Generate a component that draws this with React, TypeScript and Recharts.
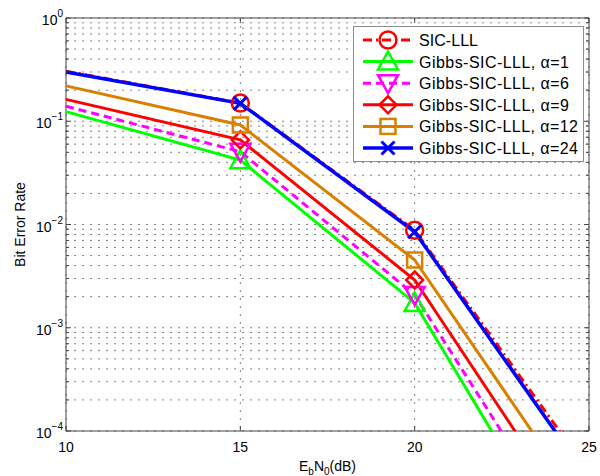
import React from 'react'
import { LineChart, Line, XAxis, YAxis, CartesianGrid, ReferenceArea, Legend, Label } from 'recharts'

// Eb/N0 points and BER curves
const snr = [10, 15, 20, 25]
const markedSnr = [15, 20]
const sicLll = [0.305, 0.15, 0.0088, 4.0e-5]
const gibbsA1 = [0.124, 0.042, 0.00174, 2.7e-6]
const gibbsA6 = [0.14, 0.0507, 0.00208, 4.6e-6]
const gibbsA9 = [0.163, 0.066, 0.0029, 8.3e-6]
const gibbsA12 = [0.22, 0.092, 0.00453, 1.55e-5]
const gibbsA24 = [0.3, 0.149, 0.0085, 3.4e-5]

const xTicks = [10, 15, 20, 25]
const decades = [-4, -3, -2, -1]

const yTicks = [
  ...decades.flatMap((d) => [1, 2, 3, 4, 5, 6, 7, 8, 9].map((m) => m * Math.pow(10, d))),
  1
]

const W = 600
const H = 476
const margin = { top: 18, right: 11, left: 0, bottom: 0 }
const PLOT_TOP = margin.top
const PLOT_RIGHT = W - margin.right
const FONT = '"Liberation Sans", Arial, Helvetica, sans-serif'

type Shape = 'circle' | 'up' | 'down' | 'diamond' | 'square' | 'x'

// textW = width of the legend label in the original figure
const series: { key: string; name: string; values: number[]; color: string; dash?: string; shape: Shape; width: number; textW: number }[] = [
  { key: 'sic', name: 'SIC-LLL', values: sicLll, color: '#ff0000', dash: '9 4 2 4', shape: 'circle', width: 3, textW: 59 },
  { key: 'a1', name: 'Gibbs-SIC-LLL, α=1', values: gibbsA1, color: '#00ff00', shape: 'up', width: 3, textW: 150 },
  { key: 'a6', name: 'Gibbs-SIC-LLL, α=6', values: gibbsA6, color: '#ff00ff', dash: '8 5', shape: 'down', width: 3, textW: 150 },
  { key: 'a9', name: 'Gibbs-SIC-LLL, α=9', values: gibbsA9, color: '#ff0000', shape: 'diamond', width: 3, textW: 150 },
  { key: 'a12', name: 'Gibbs-SIC-LLL, α=12', values: gibbsA12, color: '#d98000', shape: 'square', width: 3, textW: 159 },
  { key: 'a24', name: 'Gibbs-SIC-LLL, α=24', values: gibbsA24, color: '#0000ff', shape: 'x', width: 3.5, textW: 159 }
]

const data = snr.map((s, i) => {
  const row: Record<string, number> = { snr: s }
  series.forEach((sr) => { row[sr.key] = sr.values[i] })
  return row
})

function Marker({ shape, cx, cy, color }: { shape: Shape; cx: number; cy: number; color: string }) {
  const sw = 2.5
  switch (shape) {
    case 'circle':
      return <circle cx={cx} cy={cy} r={8.5} fill="none" stroke={color} strokeWidth={sw} />
    case 'up':
      return <polygon points={`${cx},${cy - 10} ${cx - 10},${cy + 8} ${cx + 10},${cy + 8}`} fill="none" stroke={color} strokeWidth={sw} />
    case 'down':
      return <polygon points={`${cx},${cy + 10} ${cx - 10},${cy - 8} ${cx + 10},${cy - 8}`} fill="none" stroke={color} strokeWidth={sw} />
    case 'diamond':
      return <polygon points={`${cx},${cy - 8.5} ${cx + 8.5},${cy} ${cx},${cy + 8.5} ${cx - 8.5},${cy}`} fill="none" stroke={color} strokeWidth={sw} />
    case 'square':
      return <rect x={cx - 7.5} y={cy - 7.5} width={15} height={15} fill="none" stroke={color} strokeWidth={sw} />
    default:
      return (
        <g stroke={color} strokeWidth={3}>
          <line x1={cx - 6.5} y1={cy - 6.5} x2={cx + 6.5} y2={cy + 6.5} />
          <line x1={cx - 6.5} y1={cy + 6.5} x2={cx + 6.5} y2={cy - 6.5} />
        </g>
      )
  }
}

const XTick = ({ x, y, payload }: any) => (
  <g>
    <line x1={x} y1={y} x2={x} y2={y - 5} stroke="#444" />
    <line x1={x} y1={PLOT_TOP} x2={x} y2={PLOT_TOP + 5} stroke="#444" />
    <text x={x} y={y + 21} textAnchor="middle" fontSize={14} fontFamily={FONT} fill="#000">
      {payload.value}
    </text>
  </g>
)

const YTick = ({ x, y, payload }: any) => {
  const lg = Math.log10(payload.value)
  const major = Math.abs(lg - Math.round(lg)) < 1e-6
  const len = major ? 5 : 3
  const exp = Math.round(lg)
  return (
    <g>
      <line x1={x} y1={y} x2={x + len} y2={y} stroke="#444" />
      <line x1={PLOT_RIGHT - len} y1={y} x2={PLOT_RIGHT} y2={y} stroke="#444" />
      {major && (
        <text x={x - 3} y={y + 7} textAnchor="end" fontSize={14} fontFamily={FONT} fill="#000">
          10<tspan dy={-8} fontSize={10}>{exp < 0 ? `\u2212${-exp}` : `${exp}`}</tspan>
        </text>
      )}
    </g>
  )
}

const ROW = 21.6
const LegendBox = () => (
  <svg width={231} height={136} style={{ display: 'block' }}>
    <rect x={0.5} y={0.5} width={230} height={135} fill="#fff" stroke="#8c8c8c" />
    {series.map((s, i) => {
      const cy = 14 + i * ROW
      return (
        <g key={s.key}>
          <line x1={10} y1={cy} x2={60} y2={cy} stroke={s.color} strokeWidth={s.width} strokeDasharray={s.dash} />
          <Marker shape={s.shape} cx={35} cy={cy} color={s.color} />
          <text x={66} y={cy + 6} fontSize={16} fontFamily={FONT} fill="#000" textLength={s.textW} lengthAdjust="spacing">
            {s.name}
          </text>
        </g>
      )
    })}
  </svg>
)

export default function App() {
  return (
    <div style={{ position: 'absolute', left: 0, top: 0, width: W, height: H, background: '#fff' }}>
      <LineChart width={W} height={H} data={data} margin={margin}>
        <CartesianGrid stroke="#808080" strokeDasharray="2 6" />
        <XAxis
          dataKey="snr"
          type="number"
          domain={[10, 25]}
          ticks={xTicks}
          height={45}
          axisLine={false}
          tickLine={false}
          tickSize={0}
          tickMargin={0}
          tick={<XTick />}
          interval={0}
        >
          <Label
            content={({ viewBox }: any) => (
              <text x={viewBox.x + viewBox.width / 2} y={viewBox.y + 40} textAnchor="middle" fontSize={14} fontFamily={FONT} fill="#000">
                E<tspan dy={4} fontSize={10}>b</tspan>
                <tspan dy={-4}>N</tspan>
                <tspan dy={4} fontSize={10}>0</tspan>
                <tspan dy={-4}>(dB)</tspan>
              </text>
            )}
          />
        </XAxis>
        <YAxis
          type="number"
          scale="log"
          domain={[1e-4, 1]}
          allowDataOverflow
          ticks={yTicks}
          width={66}
          axisLine={false}
          tickLine={false}
          tickSize={0}
          tickMargin={0}
          tick={<YTick />}
          interval={0}
        >
          <Label
            content={({ viewBox }: any) => {
              const cy = viewBox.y + viewBox.height / 2
              return (
                <text x={25} y={cy} transform={`rotate(-90, 25, ${cy})`} textAnchor="middle" fontSize={14} fontFamily={FONT} fill="#000">
                  Bit Error Rate
                </text>
              )
            }}
          />
        </YAxis>
        <ReferenceArea x1={10} x2={25} y1={1e-4} y2={1} fill="none" stroke="#444" strokeWidth={1} />
        {series.map((s) => (
          <Line
            key={s.key}
            dataKey={s.key}
            name={s.name}
            stroke={s.color}
            strokeWidth={s.width}
            strokeDasharray={s.dash}
            isAnimationActive={false}
            activeDot={false}
            dot={(p: any) =>
              markedSnr.includes(p.payload.snr) ? (
                <Marker key={`${s.key}-${p.index}`} shape={s.shape} cx={p.cx} cy={p.cy} color={s.color} />
              ) : (
                <g key={`${s.key}-${p.index}`} />
              )
            }
          />
        ))}
        <Legend
          layout="vertical"
          align="center"
          verticalAlign="middle"
          wrapperStyle={{ left: 353, top: 26, width: 231, height: 136 }}
          content={() => <LegendBox />}
        />
      </LineChart>
    </div>
  )
}
